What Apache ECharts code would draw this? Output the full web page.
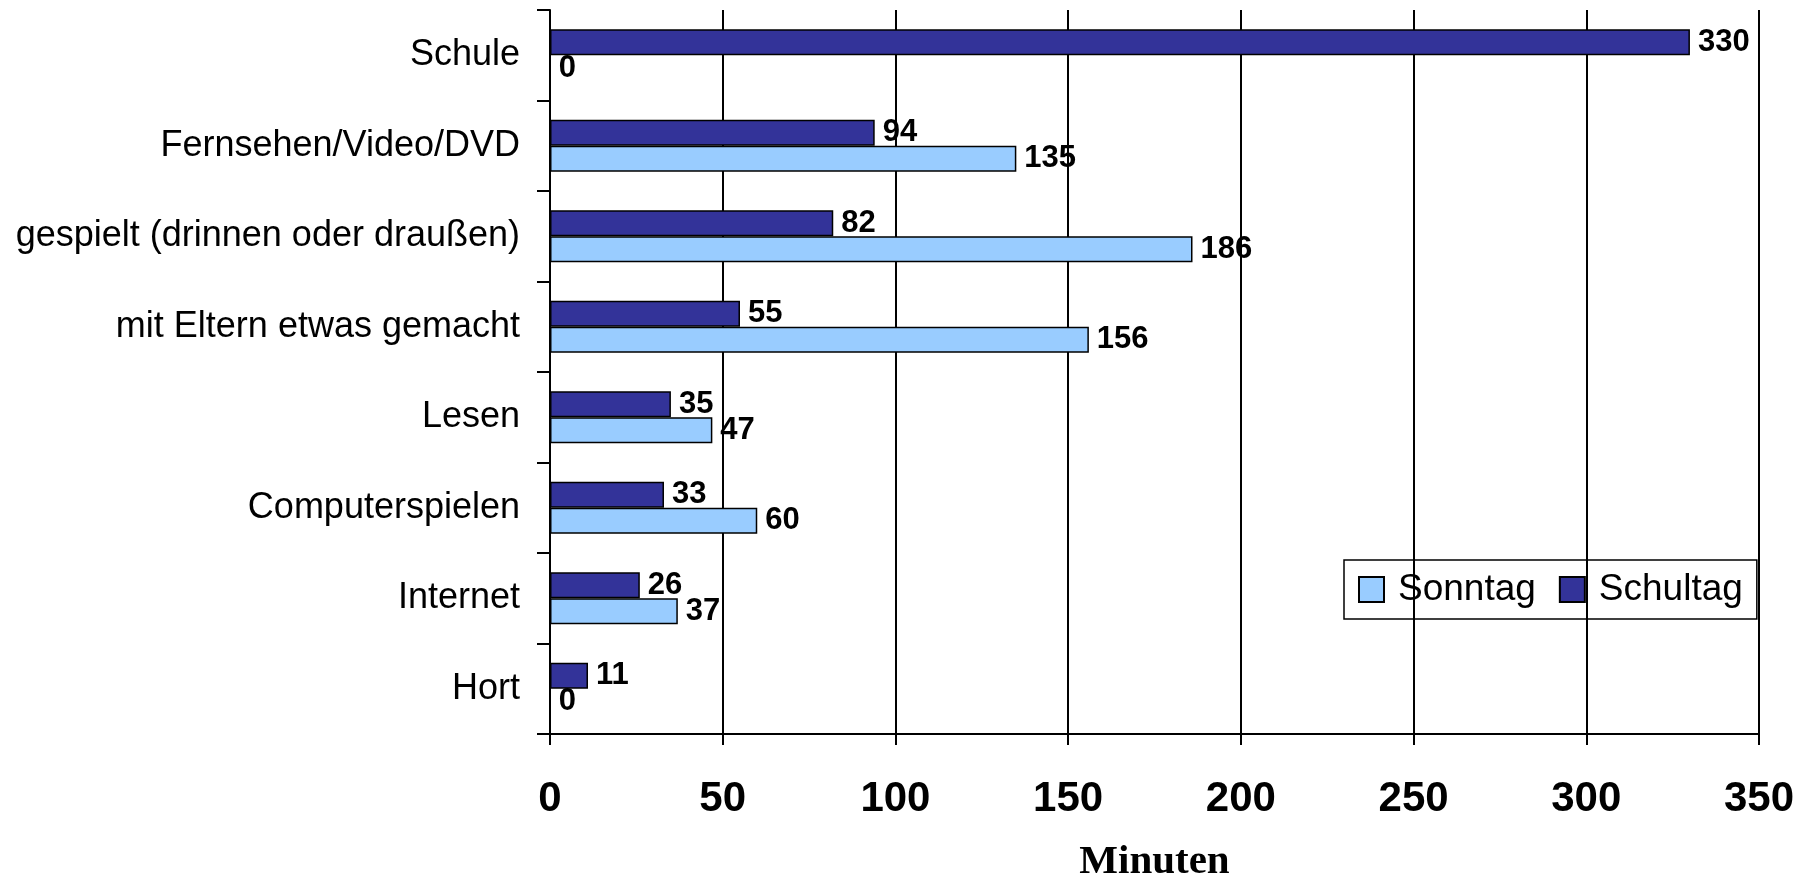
<!DOCTYPE html>
<html>
<head>
<meta charset="utf-8">
<script src="https://cdn.jsdelivr.net/npm/echarts@6/dist/echarts.min.js"></script>
<style>
  html, body { margin: 0; padding: 0; background: #fff; }
  #main { width: 1809px; height: 876px; }
</style>
</head>
<body>
<div id="main"></div>
<script>
// Kategorien von oben nach unten
let kategorien = ['Schule', 'Fernsehen/Video/DVD', 'gespielt (drinnen oder draußen)', 'mit Eltern etwas gemacht', 'Lesen', 'Computerspielen', 'Internet', 'Hort'];
let schultag = [330, 94, 82, 55, 35, 33, 26, 11];
let sonntag = [0, 135, 186, 156, 47, 60, 37, 0];
let xTicks = [0, 50, 100, 150, 200, 250, 300, 350];

let myChart = echarts.init(document.getElementById('main'));
let sans = '"Liberation Sans", Arial, sans-serif';

let labelStyle = {
    show: true,
    position: 'right',
    distance: 8,
    fontFamily: sans,
    fontWeight: 'bold',
    fontSize: 31,
    color: '#000'
};

let option = {
    animation: false,
    grid: {
        left: 550,
        right: 50,
        top: 10,
        bottom: 142,
        containLabel: false,
        outerBoundsMode: 'none'
    },
    legend: {
        data: ['Sonntag', 'Schultag'],
        left: 1344,
        top: 560,
        padding: [11, 14, 11, 14],
        itemWidth: 25,
        itemHeight: 25,
        itemGap: 23,
        borderColor: '#000',
        borderWidth: 1.5,
        icon: 'rect',
        textStyle: {
            fontFamily: sans,
            fontSize: 37,
            color: '#000',
            padding: [0, 0, 0, 9]
        }
    },
    xAxis: {
        type: 'value',
        min: xTicks[0],
        max: xTicks[xTicks.length - 1],
        interval: 50,
        name: 'Minuten',
        nameLocation: 'middle',
        nameGap: 108,
        nameTextStyle: {
            fontFamily: '"Liberation Serif", "Times New Roman", serif',
            fontWeight: 'bold',
            fontSize: 41,
            color: '#000'
        },
        axisLine: { show: true, lineStyle: { color: '#000', width: 2 } },
        axisTick: { show: true, length: 11, lineStyle: { color: '#000', width: 2 } },
        axisLabel: {
            margin: 44,
            fontFamily: sans,
            fontWeight: 'bold',
            fontSize: 42,
            color: '#000'
        },
        splitLine: { show: true, lineStyle: { color: '#000', width: 2 } }
    },
    yAxis: {
        type: 'category',
        data: kategorien,
        inverse: true,
        axisLine: { show: true, lineStyle: { color: '#000', width: 2 } },
        axisTick: { show: true, length: 13, lineStyle: { color: '#000', width: 2 } },
        axisLabel: {
            margin: 30,
            fontFamily: sans,
            fontSize: 36,
            color: '#000'
        }
    },
    series: [
        {
            name: 'Schultag',
            type: 'bar',
            data: schultag,
            barWidth: 26,
            barGap: '0%',
            itemStyle: { color: '#333399', borderColor: '#000', borderWidth: 1.5 },
            label: labelStyle
        },
        {
            name: 'Sonntag',
            type: 'bar',
            data: sonntag,
            barWidth: 26,
            barGap: '0%',
            itemStyle: { color: '#99CCFF', borderColor: '#000', borderWidth: 1.5 },
            label: labelStyle
        }
    ]
};

myChart.setOption(option);
window.addEventListener('resize', () => {
    myChart.resize();
});
</script>
</body>
</html>
